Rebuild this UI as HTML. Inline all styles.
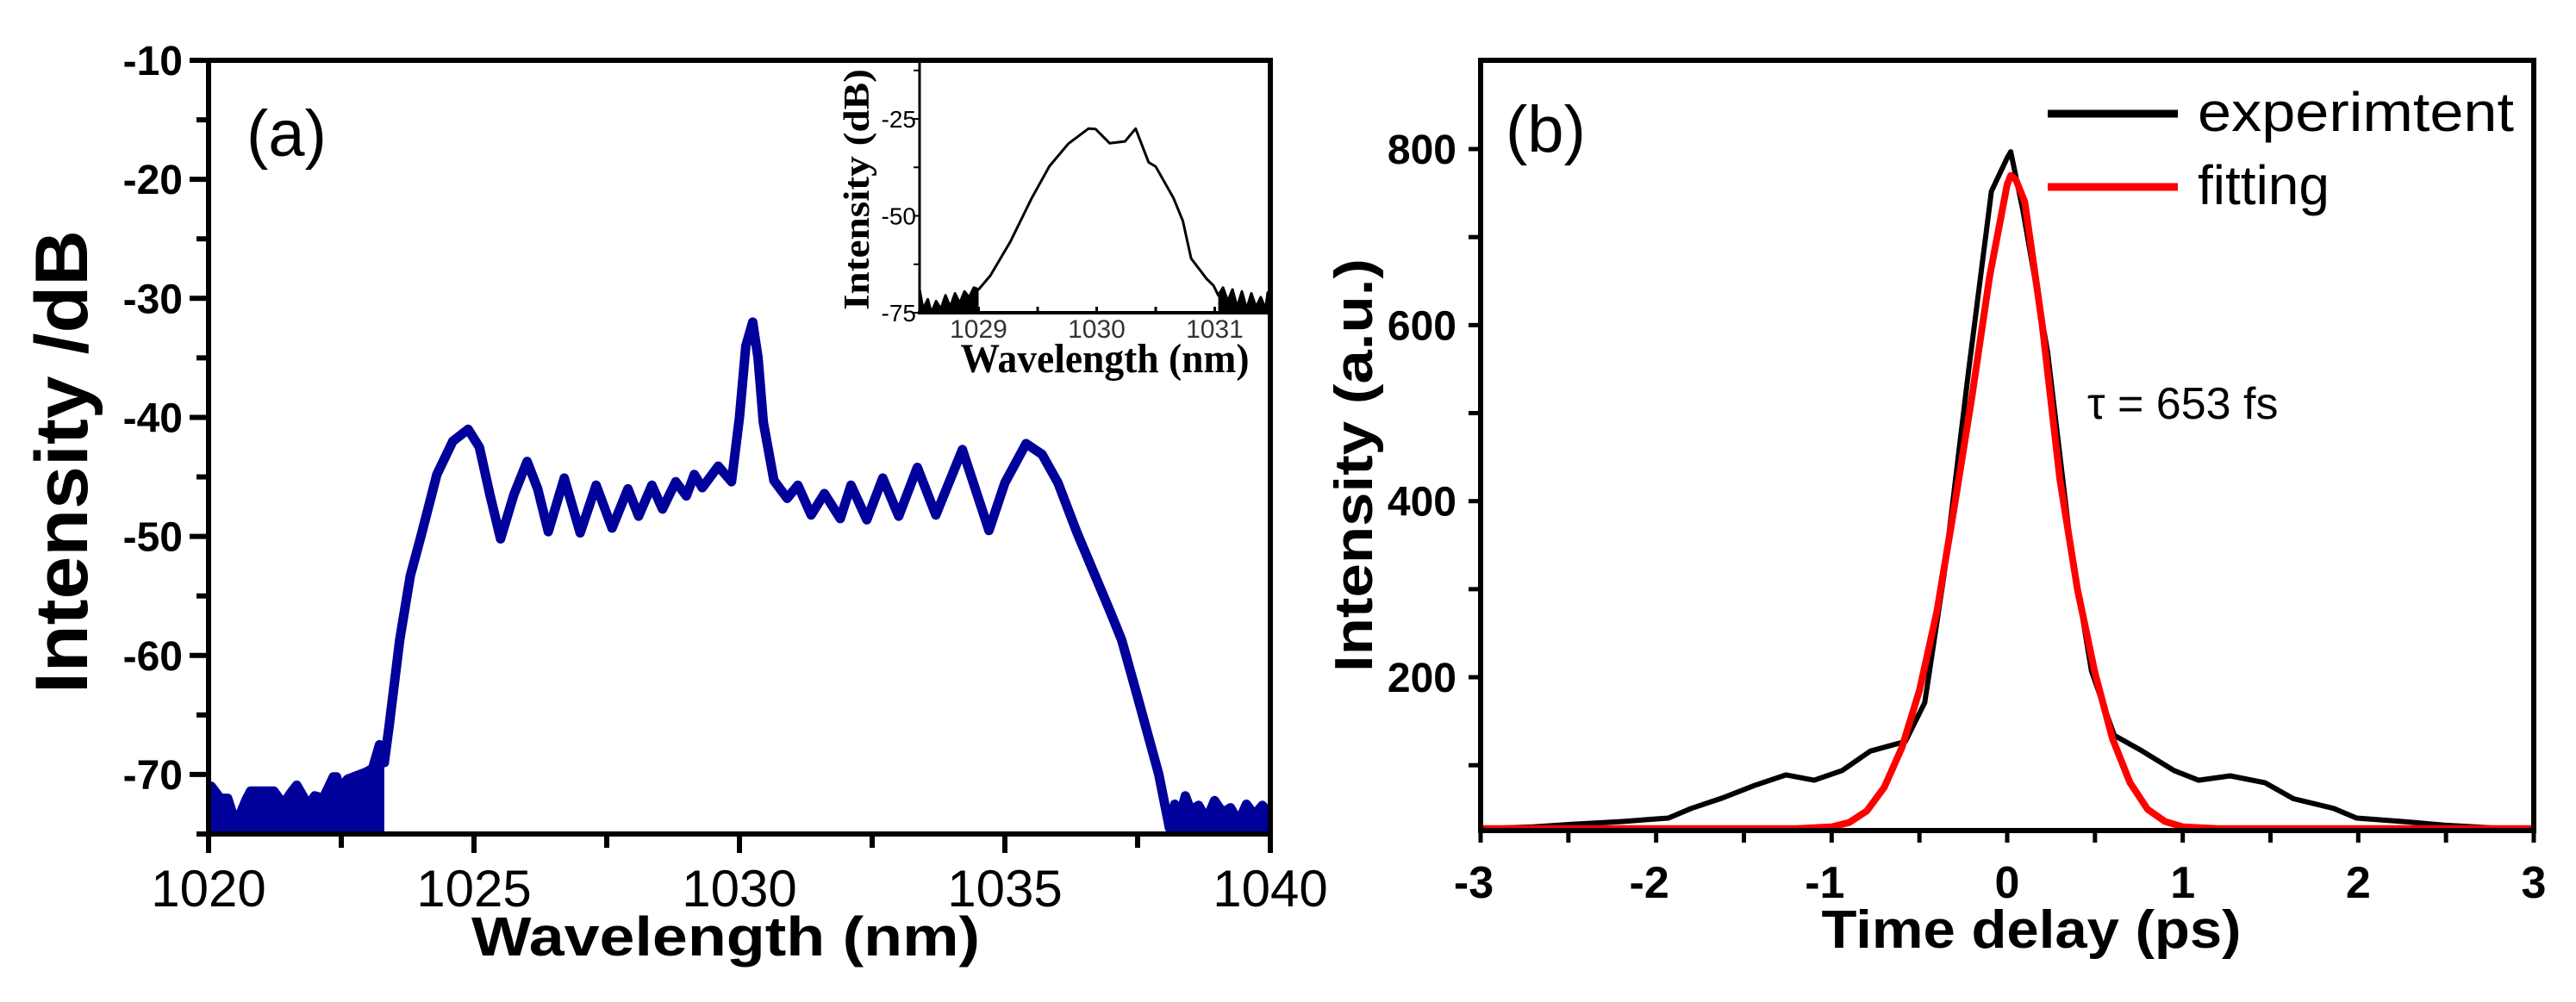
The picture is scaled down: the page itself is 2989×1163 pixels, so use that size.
<!DOCTYPE html>
<html><head><meta charset="utf-8"><style>
html,body{margin:0;padding:0;background:#fff;}
svg{display:block;}
</style></head><body>
<svg id="fig" xmlns="http://www.w3.org/2000/svg" width="2989" height="1163" viewBox="0 0 2989 1163" font-family="Liberation Sans, sans-serif">
<rect width="2989" height="1163" fill="#fff"/>
<g id="pa"></g>
<g id="pb"></g>
</svg>
<script>
// ---- Panel (a) data ----
const specWl = [1020.0,1020.05,1020.22,1020.36,1020.48,1020.58,1020.70,1020.79,1021.04,1021.23,1021.41,1021.54,1021.66,1021.88,1022.0,1022.16,1022.35,1022.41,1022.53,1022.56,1022.62,1022.97,1023.09,1023.22,1023.31,
1023.4,1023.6,1023.8,1024.0,1024.3,1024.6,1024.89,1025.1,1025.3,1025.5,1025.75,1026.0,1026.2,1026.4,1026.7,1027.0,1027.3,1027.6,1027.9,1028.1,1028.35,1028.55,1028.8,1029.0,1029.15,1029.3,1029.6,1029.85,1030.0,1030.12,1030.25,1030.35,1030.45,1030.65,1030.9,1031.1,1031.35,1031.6,1031.9,1032.1,1032.4,1032.7,1033.0,1033.35,1033.7,1034.2,1034.7,1035.0,1035.4,1035.7,1036.0,1036.35,1036.7,1037.0,1037.2,1037.5,1037.9,1038.1,
1038.2,1038.3,1038.4,1038.5,1038.65,1038.8,1038.95,1039.1,1039.25,1039.4,1039.55,1039.7,1039.85,1040.0];
const specDb = [-71.7,-71.0,-72.0,-72.0,-73.7,-73.5,-72.2,-71.4,-71.4,-71.4,-72.5,-71.6,-70.9,-72.6,-71.8,-72.0,-70.2,-70.2,-72.3,-70.7,-70.4,-69.8,-69.5,-67.5,-69.0,
-66,-58.7,-53.3,-50.0,-44.8,-42.0,-41.0,-42.5,-46.5,-50.2,-46.5,-43.7,-46.0,-49.6,-45.1,-49.7,-45.7,-49.3,-46.0,-48.3,-45.7,-47.7,-45.4,-46.6,-44.8,-45.9,-44.1,-45.4,-40.0,-34.0,-32.0,-35.0,-40.4,-45.3,-46.8,-45.7,-48.2,-46.4,-48.5,-45.7,-48.6,-45.1,-48.3,-44.2,-48.2,-42.7,-49.5,-45.5,-42.2,-43.1,-45.5,-49.6,-53.3,-56.5,-58.7,-63.5,-70.0,-74.5,
-72.5,-73.5,-71.8,-73.0,-72.6,-73.8,-72.2,-73.2,-72.8,-74.0,-72.5,-73.4,-72.6,-73.5];
const aXTicks = [1020,1025,1030,1035,1040];
const aYTicks = [-10,-20,-30,-40,-50,-60,-70];
// inset
const insWl = [1028.5,1028.53,1028.57,1028.6,1028.64,1028.68,1028.72,1028.76,1028.8,1028.84,1028.88,1028.92,1028.96,1029.0,1029.1,1029.27,1029.45,1029.6,1029.76,1029.93,1029.99,1030.11,1030.24,1030.33,1030.44,1030.5,1030.65,1030.73,1030.8,1030.93,1030.99,1031.03,1031.07,1031.11,1031.15,1031.19,1031.23,1031.27,1031.31,1031.35,1031.39,1031.43,1031.45];
const insDb = [-69,-74,-71.5,-75,-72,-74,-70.5,-73.5,-70,-72.5,-69.5,-71,-68.5,-69,-65.4,-56.6,-45.4,-37.2,-31.4,-27.5,-27.6,-31.3,-30.8,-27.5,-36.2,-37.3,-45.4,-51.3,-61,-66.2,-68,-70.5,-68.5,-72,-69,-73.5,-69.5,-74,-70,-73.5,-71,-74,-69.5];
const insXTicks = [1029,1030,1031];
const insYTicks = [-25,-50,-75];
// ---- Panel (b) data ----
const expT = [-3,-2.7,-2.47,-2.2,-1.93,-1.8,-1.62,-1.44,-1.26,-1.1,-0.94,-0.78,-0.58,-0.47,-0.36,-0.22,-0.09,0,0.02,0.09,0.23,0.36,0.48,0.61,0.77,0.95,1.09,1.27,1.47,1.63,1.86,1.99,2.26,2.49,2.75,3];
const expV = [28,30,33,36,40,51,63,77,89,83,94,116,127,171,316,548,752,790,797,730,570,352,207,134,116,94,83,88,80,62,51,40,36,32,29,28];
const fitT = [-3,-1.2,-1.0,-0.9,-0.8,-0.7,-0.6,-0.5,-0.4,-0.3,-0.2,-0.1,0,0.02,0.05,0.1,0.2,0.3,0.4,0.5,0.6,0.7,0.8,0.9,1.0,1.2,3];
const fitV = [28,28,30,35,48,75,120,185,275,395,520,655,760,770,765,740,600,425,300,205,130,80,50,36,30,28,28];
const bXTicks = [-3,-2,-1,0,1,2,3];
const bYTicks = [200,400,600,800];

const NS = 'http://www.w3.org/2000/svg';
function mk(parent, tag, attrs, text){
  const e = document.createElementNS(NS, tag);
  for (const k in attrs) e.setAttribute(k, attrs[k]);
  if (text !== undefined) e.textContent = text;
  parent.appendChild(e); return e;
}
// ===== Panel a =====
const pa = document.getElementById('pa');
const ax = v => 242 + (v-1020)*(1474-242)/20;
const ay = v => 70 + (-10 - v)*(968-70)/65;
function fillRegion(g, xs, ys, fx, fy, lo, hi, bottom, color){
  let d = '';
  const idx = xs.map((v,i)=>i).filter(i=>xs[i]>=lo && xs[i]<=hi);
  idx.forEach((i,k)=>{ d += (k?'L':'M') + fx(xs[i]).toFixed(1) + ' ' + fy(ys[i]).toFixed(1); });
  d += 'L' + fx(xs[idx[idx.length-1]]).toFixed(1) + ' ' + bottom + 'L' + fx(xs[idx[0]]).toFixed(1) + ' ' + bottom + 'Z';
  return mk(g, 'path', {d: d, fill: color});
}
const clipA = mk(pa, 'clipPath', {id:'clipA'});
mk(clipA, 'rect', {x:242, y:70, width:1232, height:898});
const gA = mk(pa, 'g', {'clip-path':'url(#clipA)'});
const nl = fillRegion(gA, specWl, specDb, ax, ay, 1020, 1023.31, 968, '#00009a');


const nr = fillRegion(gA, specWl, specDb, ax, ay, 1038.1, 1040, 968, '#00009a');


const spec = mk(gA, 'polyline', {points: specWl.map((w,i)=>ax(w).toFixed(1)+','+ay(specDb[i]).toFixed(1)).join(' '), fill:'none', stroke:'#00009a', 'stroke-width':11, 'stroke-linejoin':'round'});


const fa = mk(pa, 'rect', {x:242, y:70, width:1232, height:898, fill:'none', stroke:'#000', 'stroke-width':6});


for (let v=-10; v>=-75; v-=5){
  mk(pa, 'line', {x1:(v%10===0)?220:228, x2:242, y1:ay(v), y2:ay(v), stroke:'#000', 'stroke-width':6});
}
aYTicks.forEach(v=>{
  const t = mk(pa, 'text', {x:212, y:ay(v)+17, 'text-anchor':'end', 'font-size':48, 'font-weight':'bold'}, String(v));
  
  
});
for (let v=1020; v<=1040; v+=2.5){
  mk(pa, 'line', {x1:ax(v), x2:ax(v), y1:968, y2:(v%5===0)?990:984, stroke:'#000', 'stroke-width':6});
}
aXTicks.forEach(v=>{
  const t = mk(pa, 'text', {x:ax(v), y:1052, 'text-anchor':'middle', 'font-size':60}, String(v));
  
  
});
const xta = mk(pa, 'text', {x:842, y:1109, 'text-anchor':'middle', 'font-size':64, 'font-weight':'bold', textLength:590, lengthAdjust:'spacingAndGlyphs', 'xml:space':'preserve'}, 'Wavelength  (nm)');


const yta = mk(pa, 'text', {x:0, y:0, transform:'translate(101,536) rotate(-90)', 'text-anchor':'middle', 'font-size':86, 'font-weight':'bold', textLength:538, lengthAdjust:'spacingAndGlyphs'}, 'Intensity /dB');


const la = mk(pa, 'text', {x:286, y:181, 'font-size':76}, '(a)');


// inset
const ix = v => 1067 + (v-1028.5)*137;
const iy = v => 138 + (-25 - v)*4.5;
const gI = mk(pa, 'g', {});


const insN1 = fillRegion(gI, insWl, insDb, ix, iy, 1028.5, 1029.0, 363, '#000');


const insN2 = fillRegion(gI, insWl, insDb, ix, iy, 1031.03, 1031.45, 363, '#000');


const insL = mk(gI, 'polyline', {points: insWl.map((w,i)=>ix(w).toFixed(1)+','+iy(insDb[i]).toFixed(1)).join(' '), fill:'none', stroke:'#000', 'stroke-width':3, 'stroke-linejoin':'round'});


mk(gI, 'line', {x1:1067, x2:1067, y1:70, y2:365, stroke:'#000', 'stroke-width':3});
mk(gI, 'line', {x1:1065, x2:1472, y1:363, y2:363, stroke:'#000', 'stroke-width':4});
for (let v=1028.5; v<=1031.4; v+=0.5){ mk(gI, 'line', {x1:ix(v), x2:ix(v), y1:356, y2:363, stroke:'#000', 'stroke-width':3}); }
for (let v=-12.5; v>=-75; v-=12.5){ mk(gI, 'line', {x1:1060, x2:1067, y1:iy(v), y2:iy(v), stroke:'#000', 'stroke-width':2}); }
insXTicks.forEach(v=>{
  const t = mk(gI, 'text', {x:ix(v), y:392, 'text-anchor':'middle', 'font-size':30, fill:'#333'}, String(v));
  
  
});
insYTicks.forEach(v=>{
  const t = mk(gI, 'text', {x:1063, y:iy(v)+10, 'text-anchor':'end', 'font-size':28}, String(v));
  
  
});
const ixt = mk(gI, 'text', {x:1282, y:432, 'text-anchor':'middle', 'font-size':48, 'font-weight':'bold', 'font-family':'Liberation Serif, serif', textLength:335, lengthAdjust:'spacingAndGlyphs'}, 'Wavelength (nm)');


const iyt = mk(gI, 'text', {x:0, y:0, transform:'translate(1008,220) rotate(-90)', 'text-anchor':'middle', 'font-size':42, 'font-weight':'bold', 'font-family':'Liberation Serif, serif', textLength:280, lengthAdjust:'spacingAndGlyphs'}, 'Intensity (dB)');



// ===== Panel b =====
const pb = document.getElementById('pb');
const bx = v => 1718 + (v+3)*(2940-1718)/6;
const by = v => 173 + (800 - v)*1.0217;
const clipB = mk(pb, 'clipPath', {id:'clipB'});
mk(clipB, 'rect', {x:1718, y:70, width:1222, height:894});
const gB = mk(pb, 'g', {'clip-path':'url(#clipB)'});
const ex = mk(gB, 'polyline', {points: expT.map((t,i)=>bx(t).toFixed(1)+','+by(expV[i]).toFixed(1)).join(' '), fill:'none', stroke:'#000', 'stroke-width':6, 'stroke-linejoin':'round'});


const ft = mk(gB, 'polyline', {points: fitT.map((t,i)=>bx(t).toFixed(1)+','+by(fitV[i]).toFixed(1)).join(' '), fill:'none', stroke:'#ff0000', 'stroke-width':8, 'stroke-linejoin':'round'});


const fb = mk(pb, 'rect', {x:1718, y:70, width:1222, height:894, fill:'none', stroke:'#000', 'stroke-width':6});


for (let v=100; v<=900; v+=100){ if (by(v)>72 && by(v)<962) mk(pb, 'line', {x1:1704, x2:1718, y1:by(v), y2:by(v), stroke:'#000', 'stroke-width':5}); }
bYTicks.forEach(v=>{
  const t = mk(pb, 'text', {x:1690, y:by(v)+17, 'text-anchor':'end', 'font-size':48, 'font-weight':'bold'}, String(v));
  
  
});
for (let v=-3; v<=3.01; v+=0.5){ mk(pb, 'line', {x1:bx(v), x2:bx(v), y1:964, y2:978, stroke:'#000', 'stroke-width':5}); }
bXTicks.forEach(v=>{
  const t = mk(pb, 'text', {x:bx(v)-(v<0?8:0), y:1042, 'text-anchor':'middle', 'font-size':52, 'font-weight':'bold'}, String(v));
  
  
});
const xtb = mk(pb, 'text', {x:2357, y:1100, 'text-anchor':'middle', 'font-size':62, 'font-weight':'bold', textLength:487, lengthAdjust:'spacingAndGlyphs'}, 'Time delay (ps)');


const ytb = mk(pb, 'text', {x:0, y:0, transform:'translate(1592,540) rotate(-90)', 'text-anchor':'middle', 'font-size':62, 'font-weight':'bold', textLength:480, lengthAdjust:'spacingAndGlyphs'}, 'Intensity (a.u.)');


const lb = mk(pb, 'text', {x:1747, y:176, 'font-size':76}, '(b)');


const lg = mk(pb, 'g', {});


mk(lg, 'line', {x1:2376, x2:2527, y1:132, y2:132, stroke:'#000', 'stroke-width':9});
const le1 = mk(lg, 'text', {x:2550, y:152, 'font-size':64, textLength:367, lengthAdjust:'spacingAndGlyphs'}, 'experimtent');


mk(lg, 'line', {x1:2376, x2:2527, y1:217, y2:217, stroke:'#ff0000', 'stroke-width':9});
const le2 = mk(lg, 'text', {x:2550, y:237, 'font-size':64}, 'fitting');


const tau = mk(pb, 'text', {x:2422, y:486, 'font-size':52}, 'τ = 653 fs');


</script>
</body></html>
